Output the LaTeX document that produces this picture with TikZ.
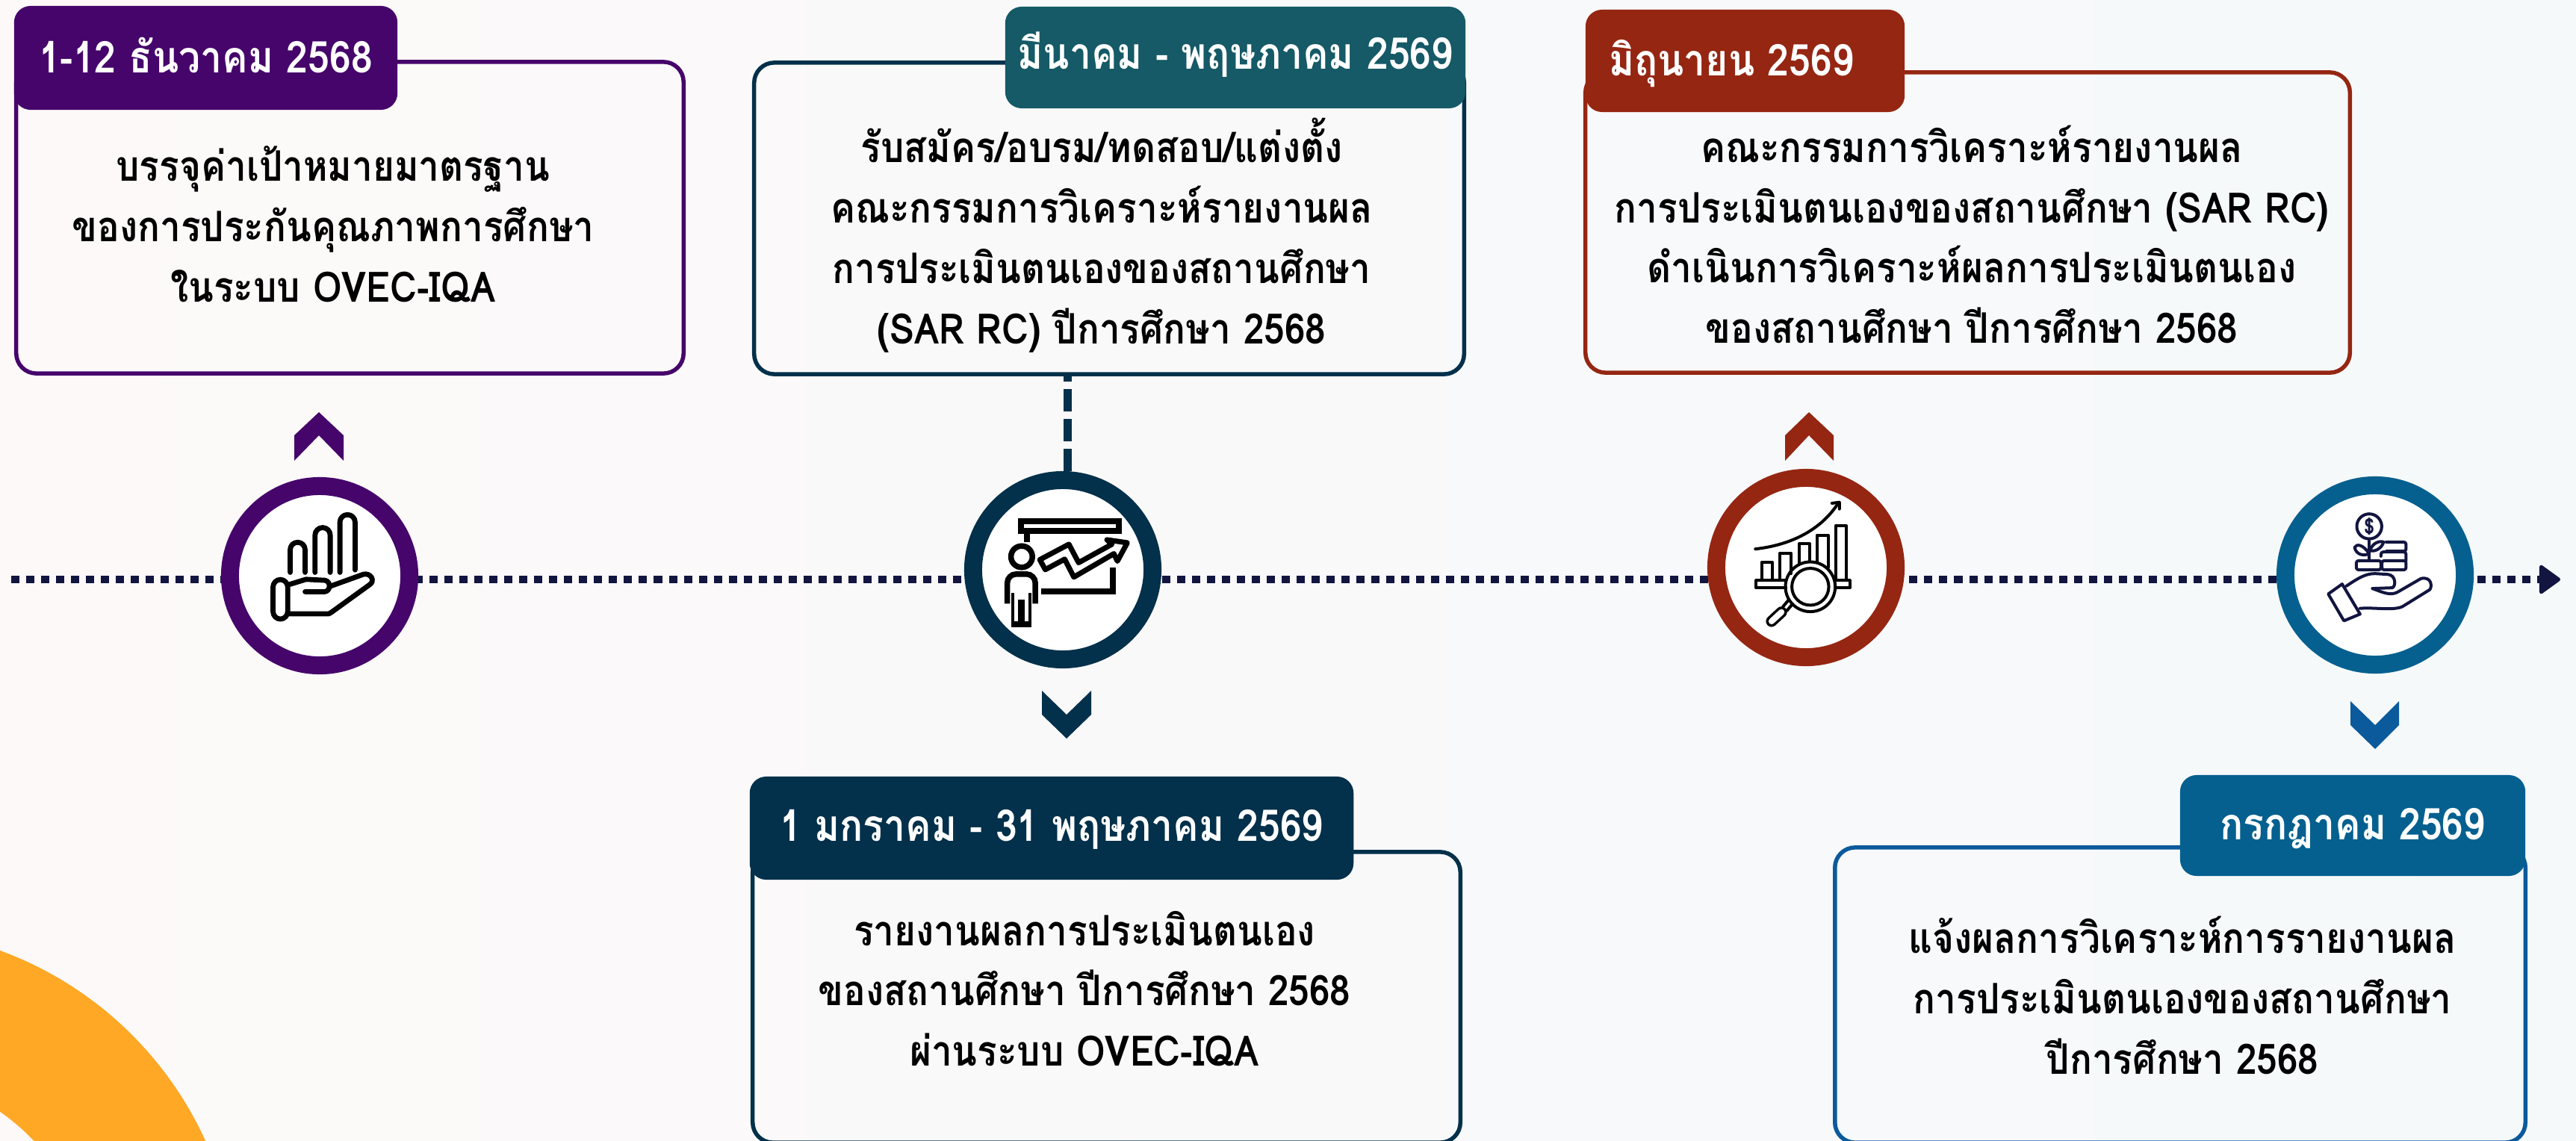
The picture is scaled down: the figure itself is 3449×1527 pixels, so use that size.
\documentclass[tikz,border=0pt]{standalone}
\usepackage{fontspec}
\setmainfont[Script=Thai,FakeStretch=0.88]{Loma}
\usetikzlibrary{arrows.meta, positioning}
\definecolor{purp}{HTML}{46056B}
\definecolor{navy}{HTML}{03304A}
\definecolor{tealhead}{HTML}{155A66}
\definecolor{rust}{HTML}{952612}
\definecolor{sea}{HTML}{05608F}
\definecolor{seaedge}{HTML}{0B5A9C}
\definecolor{inkline}{HTML}{11153F}
\definecolor{sun}{HTML}{FFA826}
\definecolor{bgleft}{HTML}{FDF9F9}
\definecolor{bgright}{HTML}{F5F9FA}
\tikzset{
	infobox/.style={draw=#1,line width=.055cm,rounded corners=.27cm,rectangle,inner sep=0pt},
	datehead/.style={fill=#1,rounded corners=.22cm,rectangle,text=white,inner sep=0pt,text height=.42cm,text depth=.02cm,font=\fontsize{16.7}{20}\selectfont\bfseries},
	bodytext/.style={align=center,inner sep=0pt,text=black,font=\fontsize{16}{23}\selectfont\bfseries},
	ring/.style={circle,fill=white,draw=#1,line width=.24cm,minimum size=2.4cm,inner sep=0pt},
	iconline/.style={line width=#1,line cap=round,line join=round},
}
\begin{document}
\begin{tikzpicture}[x=.01cm,y=-.01cm]
	  \clip (0,0) rectangle (3449,1527);
	  \shade[left color=bgleft,right color=bgright] (0,0) rectangle (3449,1527);
	  \draw[sun,line width=1.93cm] (-166,1728) circle [radius=3.875cm];
	  % the boxes
	  \node at (468.5,291.5) (boxa) [infobox=purp,minimum width=8.93cm,minimum height=4.17cm]{};
	  \node at (1485,292.5) (boxb) [infobox=navy,minimum width=9.5cm,minimum height=4.17cm]{};
	  \node at (2634.5,298) (boxc) [infobox=rust,minimum width=10.23cm,minimum height=4.02cm]{};
	  \node at (1481.5,1335.5) (boxd) [infobox=navy,minimum width=9.47cm,minimum height=3.89cm]{};
	  \node at (2919,1332.5) (boxe) [infobox=seaedge,minimum width=9.24cm,minimum height=3.95cm]{};
	  \node at (275.5,77.5) (heada) [datehead=purp,minimum width=5.13cm,minimum height=1.39cm]{1-12 ธันวาคม 2568};
	  \node at (1654,77) (headb) [datehead=tealhead,minimum width=6.16cm,minimum height=1.36cm,text depth=.12cm]{มีนาคม - พฤษภาคม 2569};
	  \node at (2336.5,81.5) (headc) [datehead=rust,minimum width=4.27cm,minimum height=1.37cm]{มิถุนายน 2569\hspace{.37cm}\mbox{}};
	  \node at (1408,1109) (headd) [datehead=navy,minimum width=8.08cm,minimum height=1.38cm,text depth=.08cm]{1 มกราคม - 31 พฤษภาคม 2569};
	  \node at (3150,1105.5) (heade) [datehead=sea,minimum width=4.62cm,minimum height=1.35cm,text depth=.05cm]{กรกฎาคม 2569};
	  % the texts
	  \node at (446,300) (texta) [bodytext]{บรรจุค่าเป้าหมายมาตรฐาน\\ของการประกันคุณภาพการศึกษา\\ในระบบ OVEC-IQA};
	  \node at (1475,315) (textb) [bodytext]{รับสมัคร/อบรม/ทดสอบ/แต่งตั้ง\\คณะกรรมการวิเคราะห์รายงานผล\\การประเมินตนเองของสถานศึกษา\\(SAR RC) ปีการศึกษา 2568};
	  \node at (2640,314) (textc) [bodytext]{คณะกรรมการวิเคราะห์รายงานผล\\การประเมินตนเองของสถานศึกษา (SAR RC)\\ดำเนินการวิเคราะห์ผลการประเมินตนเอง\\ของสถานศึกษา ปีการศึกษา 2568};
	  \node at (1452,1324) (textd) [bodytext]{รายงานผลการประเมินตนเอง\\ของสถานศึกษา ปีการศึกษา 2568\\ผ่านระบบ OVEC-IQA};
	  \node at (2922,1333) (texte) [bodytext]{แจ้งผลการวิเคราะห์การรายงานผล\\การประเมินตนเองของสถานศึกษา\\ปีการศึกษา 2568};
	  % the timeline
	  \coordinate (linestart) at (15,776);
	  \coordinate (lineend) at (3428,776);
	  \draw[inkline,line width=.1cm,dash pattern=on .11cm off .09cm,-{Triangle[length=.3cm,width=.42cm,line width=.05cm,round]}](linestart) -- (lineend);
	  \node at (428,771) (ringa) [ring=purp]{};
	  \node at (1423,763) (ringb) [ring=navy]{};
	  \node at (2418,760) (ringc) [ring=rust]{};
	  \node at (3180,770) (ringd) [ring=sea]{};
	  \draw[navy,line width=.11cm,dash pattern=on .3cm off .1cm]([xshift=.06cm]ringb.north) -- ([xshift=.06cm]ringb.north |- boxb.south);
	  % chevrons
	  \fill[purp] (427,552) -- (460,583) -- (460,617) -- (427,583) -- (394,617) -- (394,583) -- cycle;
	  \fill[navy] (1428,957) -- (1461,925) -- (1461,957) -- (1428,989) -- (1395,957) -- (1395,925) -- cycle;
	  \fill[rust] (2422,552) -- (2455,583) -- (2455,617) -- (2422,583) -- (2390,617) -- (2390,583) -- cycle;
	  \fill[seaedge] (3180,971) -- (3212,939) -- (3212,971) -- (3180,1003) -- (3147,971) -- (3147,939) -- cycle;
	  % hand with bars
	  \begin{scope}[shift={(310,650)},x=.003333cm,y=-.003333cm,iconline=.068cm]
	  \draw[rounded corners=.1cm] (236,350) -- (236,229) -- (296,229) -- (296,350);
	  \draw[rounded corners=.1cm] (336,350) -- (336,170) -- (397,170) -- (397,350);
	  \draw[rounded corners=.1cm] (436,350) -- (436,118) -- (497,118) -- (497,340);
	  \draw[rounded corners=.1cm] (167,379) rectangle (226,538);
	  \draw (235,398) -- (300,378) -- (375,382) .. controls (400,385) and (400,425) .. (375,428) -- (296,428);
	  \draw (400,405) -- (530,358) .. controls (560,350) and (580,385) .. (555,400) -- (400,512) -- (390,517) -- (235,517);
	  \end{scope}
	  % presenter with chart
	  \begin{scope}[shift={(1303,643)},x=.003333cm,y=-.003333cm]
	  \draw[line width=.08cm] (192,165) rectangle (586,204);
	  \draw[line width=.08cm] (217,204) -- (217,250);
	  \draw[line width=.075cm] (195,308) circle [radius=.143cm];
	  \draw[line width=.075cm,rounded corners=.12cm] (137,497) -- (137,378) -- (250,378) -- (250,497);
	  \fill (153,455) rectangle (235,592);
	  \fill[white] (165,455) rectangle (180,568);
	  \fill[white] (208,455) rectangle (222,568);
	  \fill[white] (180,455) rectangle (208,480);
	  \draw[line width=.08cm] (274,448) -- (562,448) -- (562,352);
	  \draw[line width=.07cm,line join=round] (268,320) -- (385,258) -- (424,332) -- (558,258) -- (538,240) -- (620,252) -- (580,326) -- (566,296) -- (405,390) -- (368,318) -- (290,360) -- cycle;
	  \end{scope}
	  % chart with lens
	  \begin{scope}[shift={(2298,640)},x=.003333cm,y=-.003333cm,iconline=.04cm]
	  \draw (157,286) .. controls (300,270) and (420,210) .. (490,102);
	  \draw (465,102) -- (495,98) -- (495,125);
	  \draw (182,410) -- (182,340) -- (226,340) -- (226,410);
	  \draw (256,410) -- (256,302) -- (300,302) -- (300,385);
	  \draw (332,345) -- (332,265) -- (375,265) -- (375,335);
	  \draw (405,338) -- (405,230) -- (450,230) -- (450,360);
	  \draw (480,410) -- (480,192) -- (522,192) -- (522,410);
	  \draw (280,412) -- (160,412) -- (160,443) -- (280,443);
	  \draw (480,412) -- (537,412) -- (537,443) -- (480,443);
	  \draw (378,438) circle [radius=.333cm];
	  \draw (378,438) circle [radius=.247cm];
	  \draw (290,492) -- (268,518);
	  \draw (306,508) -- (284,534);
	  \draw[line width=.15cm] (222,577) -- (262,540);
	  \draw[white,line width=.08cm] (222,577) -- (262,540);
	  \end{scope}
	  % hand with coins
	  \begin{scope}[shift={(3060,650)},x=.003333cm,y=-.003333cm,inkline,iconline=.04cm]
	  \draw (337,165) circle [radius=.167cm];
	  \node at (337,165) (dollar) [inner sep=0pt,font=\fontsize{8}{8}\selectfont\bfseries]{\$};
	  \draw (337,215) -- (337,300);
	  \draw (337,275) .. controls (310,235) and (285,235) .. (278,250) .. controls (285,280) and (315,285) .. cycle;
	  \draw (340,262) .. controls (350,230) and (380,222) .. (395,228) .. controls (385,258) and (355,268) .. cycle;
	  \draw[rounded corners=.03cm] (285,303) rectangle (384,340);
	  \draw[rounded corners=.03cm] (388,303) rectangle (485,340);
	  \draw[rounded corners=.03cm] (384,285) -- (384,268) -- (485,268) -- (485,303);
	  \draw[rounded corners=.03cm] (405,228) -- (485,228) -- (485,265) -- (405,265);
	  \draw (172,437) -- (228,397) -- (300,518) -- (235,545) -- cycle;
	  \draw (245,405) .. controls (290,375) and (320,355) .. (360,355) -- (410,358) .. controls (445,360) and (445,405) .. (430,412) -- (350,415);
	  \draw (350,415) .. controls (390,430) and (420,445) .. (450,430) -- (545,375) .. controls (590,365) and (590,410) .. (580,420) -- (470,488) .. controls (430,505) and (360,490) .. (300,495);
	  \end{scope}
	\end{tikzpicture}
\end{document}
